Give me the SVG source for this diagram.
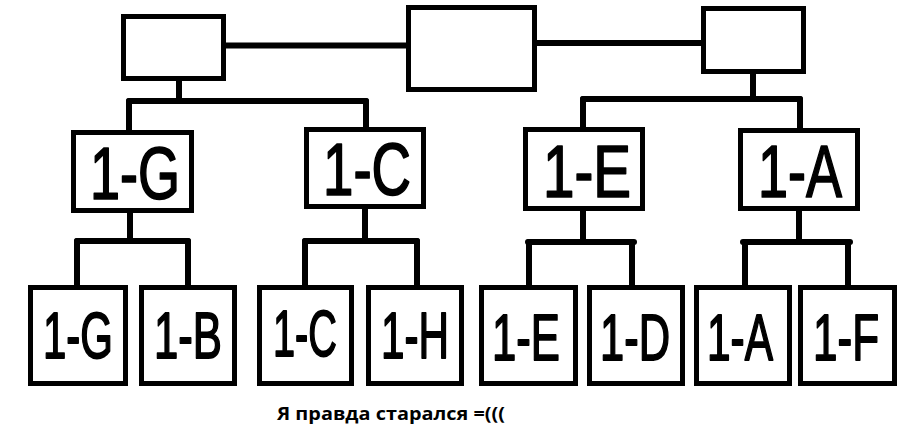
<svg xmlns="http://www.w3.org/2000/svg" width="900" height="427" viewBox="0 0 900 427">
<style>
  .box { fill: #ffffff; stroke: #000000; stroke-width: 5; }
  .conn path { fill: none; stroke: #000000; stroke-width: 6; stroke-linecap: round; }
  .lbl { font-family: "Liberation Sans", "DejaVu Sans", sans-serif; fill: #000000; stroke: #000000; stroke-width: 1.5; stroke-linejoin: round; text-anchor: middle; }
  .mid { font-size: 64px; }
  .low { font-size: 54px; }
  .note { font-family: "Open Sans", "Noto Sans", "DejaVu Sans", sans-serif; font-weight: bold; font-size: 17px; fill: #000000; }
</style>
<rect width="900" height="427" fill="#ffffff"/>
<g id="connectors" class="conn">
  <path d="M226 45.5 H406"/>
  <path d="M537 43 H701"/>
  <path d="M179 81 V101"/>
  <path d="M129 101 H366"/>
  <path d="M129 101 V130"/>
  <path d="M366 101 V127"/>
  <path d="M753 74 V99"/>
  <path d="M583 99 H800"/>
  <path d="M583 99 V127"/>
  <path d="M800 99 V128"/>
  <path d="M130 213 V241"/>
  <path d="M77 241 H188"/>
  <path d="M77 241 V285"/>
  <path d="M188 241 V285"/>
  <path d="M365 209 V241"/>
  <path d="M305 241 H417"/>
  <path d="M305 241 V285"/>
  <path d="M417 241 V285"/>
  <path d="M583 211 V242"/>
  <path d="M528 242 H634"/>
  <path d="M529 242 V286"/>
  <path d="M632 242 V286"/>
  <path d="M799 211 V242"/>
  <path d="M743 242 H850"/>
  <path d="M745 242 V286"/>
  <path d="M848 242 V286"/>
</g>
<g id="top-left"><rect class="box" x="123.5" y="16.5" width="100" height="62"/></g>
<g id="top-center"><rect class="box" x="408.5" y="7.5" width="126" height="82"/></g>
<g id="top-right"><rect class="box" x="703.5" y="8.5" width="100" height="63"/></g>
<g id="semi-1G"><rect class="box" x="73.5" y="132.5" width="118" height="78"/><text class="lbl mid" transform="translate(135 199) scale(1 1.15)" x="0" y="0" textLength="90" lengthAdjust="spacingAndGlyphs">1-G</text></g>
<g id="semi-1C"><rect class="box" x="306.5" y="129.5" width="117" height="77"/><text class="lbl mid" transform="translate(367 195) scale(1 1.15)" x="0" y="0" textLength="88" lengthAdjust="spacingAndGlyphs">1-C</text></g>
<g id="semi-1E"><rect class="box" x="525.5" y="129.5" width="117" height="79"/><text class="lbl mid" transform="translate(587 197) scale(1 1.15)" x="0" y="0" textLength="88" lengthAdjust="spacingAndGlyphs">1-E</text></g>
<g id="semi-1A"><rect class="box" x="740.5" y="130.5" width="117" height="78"/><text class="lbl mid" transform="translate(800 197) scale(1 1.15)" x="0" y="0" textLength="84" lengthAdjust="spacingAndGlyphs">1-A</text></g>
<g id="q-1G"><rect class="box" x="30.5" y="287.5" width="95" height="96"/><text class="lbl low" transform="translate(78 358) scale(1 1.2)" x="0" y="0" textLength="70" lengthAdjust="spacingAndGlyphs">1-G</text></g>
<g id="q-1B"><rect class="box" x="141.5" y="287.5" width="93" height="96"/><text class="lbl low" transform="translate(188 358) scale(1 1.2)" x="0" y="0" textLength="68" lengthAdjust="spacingAndGlyphs">1-B</text></g>
<g id="q-1C"><rect class="box" x="259.5" y="287.5" width="92" height="96"/><text class="lbl low" transform="translate(305 356) scale(1 1.2)" x="0" y="0" textLength="64" lengthAdjust="spacingAndGlyphs">1-C</text></g>
<g id="q-1H"><rect class="box" x="368.5" y="287.5" width="93" height="96"/><text class="lbl low" transform="translate(415 358) scale(1 1.2)" x="0" y="0" textLength="68" lengthAdjust="spacingAndGlyphs">1-H</text></g>
<g id="q-1E"><rect class="box" x="481.5" y="287.5" width="94" height="96"/><text class="lbl low" transform="translate(526 360) scale(1 1.2)" x="0" y="0" textLength="68" lengthAdjust="spacingAndGlyphs">1-E</text></g>
<g id="q-1D"><rect class="box" x="589.5" y="287.5" width="93" height="96"/><text class="lbl low" transform="translate(635 360) scale(1 1.2)" x="0" y="0" textLength="70" lengthAdjust="spacingAndGlyphs">1-D</text></g>
<g id="q-1A"><rect class="box" x="696.5" y="287.5" width="93" height="96"/><text class="lbl low" transform="translate(740 360) scale(1 1.2)" x="0" y="0" textLength="66" lengthAdjust="spacingAndGlyphs">1-A</text></g>
<g id="q-1F"><rect class="box" x="800.5" y="287.5" width="94" height="96"/><text class="lbl low" transform="translate(846 360) scale(1 1.2)" x="0" y="0" textLength="66" lengthAdjust="spacingAndGlyphs">1-F</text></g>
<text class="note" x="277" y="419.5" textLength="228" lengthAdjust="spacingAndGlyphs">Я правда старался =(((</text>
</svg>
